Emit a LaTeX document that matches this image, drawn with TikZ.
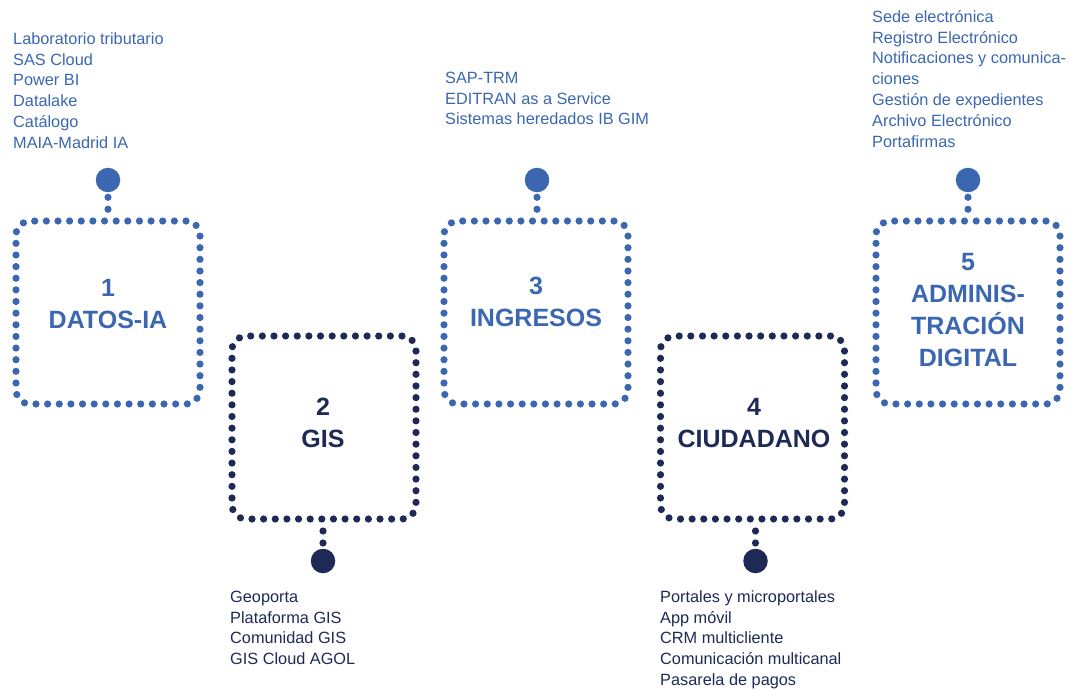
\documentclass[tikz,border=0pt]{standalone}
\usepackage{fontspec}
\setmainfont{Liberation Sans}
\definecolor{mblue}{RGB}{59,103,176}
\definecolor{mnavy}{RGB}{30,42,85}
% rounded square of dots: 184 x 183, corner radius 14, 61 dots round the border
\pgfmathsetmacro{\dotgap}{(2*(184-28)+2*(183-28)+2*pi*14)/61}
\tikzset{
  stage/.style={draw=#1, rectangle, rounded corners=14pt, minimum width=184pt,
    minimum height=183pt, inner sep=0pt, outer sep=0pt, line width=7.2pt,
    line cap=round, dash pattern=on 0pt off \dotgap pt},
  pin/.style={circle, fill=#1, minimum size=24.5pt, inner sep=0pt, outer sep=0pt},
  link/.style={draw=#1, line width=7.2pt, line cap=round, dash pattern=on 0pt off 12pt},
  title/.style={text=#1, align=center, inner sep=0pt,
    font=\bfseries\fontsize{25}{32}\selectfont},
  items/.style={text=#1, align=left, anchor=north west, inner sep=0pt,
    font=\fontsize{16.3}{20.8}\selectfont},
}
\newcommand{\firstline}{\rule{0pt}{12pt}}
\begin{document}
\begin{tikzpicture}[x=1pt,y=-1pt]
\useasboundingbox (0,0) rectangle (1089,689);

% stage frames
\node[stage=mblue] (b1) at (108,312.5) {};
\node[stage=mnavy] (b2) at (324,427.5) {};
\node[stage=mblue] (b3) at (536,312.5) {};
\node[stage=mnavy] (b4) at (752.5,427.5) {};
\node[stage=mblue] (b5) at (968,312.5) {};

% stage titles
\node[title=mblue] (t1) at (108,304) {1\\DATOS-IA};
\node[title=mnavy] (t2) at (323,423) {2\\GIS};
\node[title=mblue] (t3) at (536,302) {3\\INGRESOS};
\node[title=mnavy] (t4) at (754,423) {4\\CIUDADANO};
\node[title=mblue] (t5) at (968,310.5) {5\\ADMINIS-\\TRACIÓN\\DIGITAL};

% pins
\node[pin=mblue] (c1) at (108,180) {};
\node[pin=mnavy] (c2) at (323,561) {};
\node[pin=mblue] (c3) at (537,180) {};
\node[pin=mnavy] (c4) at (755.5,561) {};
\node[pin=mblue] (c5) at (968,180) {};

% dotted stems between pins and frames (two dots each)
\draw[link=mblue, dash phase=7pt, shorten >=3pt] (c1.south) -- (b1.north -| c1.south);
\draw[link=mblue, dash phase=7pt, shorten >=3pt] (c3.south) -- (b3.north -| c3.south);
\draw[link=mblue, dash phase=7pt, shorten >=3pt] (c5.south) -- (b5.north -| c5.south);
\draw[link=mnavy, dash phase=0.01pt] (b2.south -| c2.north) -- (c2.north);
\draw[link=mnavy, dash phase=0.01pt] (b4.south -| c4.north) -- (c4.north);

% item lists
\node[items=mblue] (l1) at (13,32) {\firstline Laboratorio tributario\\SAS Cloud\\Power BI\\Datalake\\Catálogo\\MAIA-Madrid IA};
\node[items=mnavy] (l2) at (230,590) {\firstline Geoporta\\Plataforma GIS\\Comunidad GIS\\GIS Cloud AGOL};
\node[items=mblue] (l3) at (445,71) {\firstline SAP-TRM\\EDITRAN as a Service\\Sistemas heredados IB GIM};
\node[items=mnavy] (l4) at (660,590) {\firstline Portales y microportales\\App móvil\\CRM multicliente\\Comunicación multicanal\\Pasarela de pagos};
\node[items=mblue] (l5) at (872,10) {\firstline Sede electrónica\\Registro Electrónico\\Notificaciones y comunica-\\ciones\\Gestión de expedientes\\Archivo Electrónico\\Portafirmas};
\end{tikzpicture}
\end{document}
